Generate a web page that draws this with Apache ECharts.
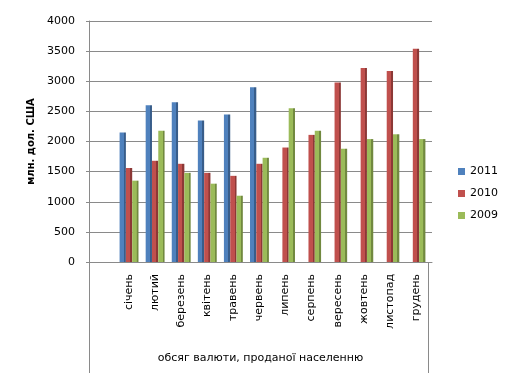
<!DOCTYPE html>
<html>
<head>
<meta charset="utf-8">
<script src="https://cdn.jsdelivr.net/npm/echarts@6/dist/echarts.min.js"></script>
<style>html,body{margin:0;padding:0;background:#fff}#c{width:512px;height:384px}</style>
</head>
<body>
<div id="c"></div>
<script>
var categories = ['січень','лютий','березень','квітень','травень','червень','липень','серпень','вересень','жовтень','листопад','грудень'];
var s2011 = [2150, 2600, 2650, 2350, 2450, 2900, null, null, null, null, null, null];
var s2010 = [1560, 1680, 1630, 1480, 1430, 1630, 1900, 2110, 2980, 3220, 3170, 3540];
var s2009 = [1350, 2180, 1480, 1300, 1100, 1730, 2550, 2180, 1880, 2040, 2120, 2040];
var yTicks = [0, 500, 1000, 1500, 2000, 2500, 3000, 3500, 4000];
var seriesNames = ['2011', '2010', '2009'];

var baseColors = ['#4F81BD', '#C0504D', '#9BBB59'];
var darkColors = ['#385D8A', '#8C3836', '#71893F'];
var FONT = 'DejaVu Sans';

function face(i) {
  return new echarts.graphic.LinearGradient(0, 0, 1, 0, [
    {offset: 0, color: baseColors[i]},
    {offset: 0.68, color: baseColors[i]},
    {offset: 0.7, color: darkColors[i]},
    {offset: 1, color: darkColors[i]}
  ]);
}

var chart = echarts.init(document.getElementById('c'), null, {renderer: 'canvas'});
var datasets = [s2011, s2010, s2009];
var series = datasets.map(function (d, i) {
  return {
    name: seriesNames[i],
    type: 'bar',
    xAxisIndex: 0,
    yAxisIndex: 0,
    data: d,
    barWidth: 6.3,
    barGap: '0%',
    itemStyle: {color: face(i)},
    emphasis: {disabled: true}
  };
});

chart.setOption({
  animation: false,
  textStyle: {fontFamily: FONT},
  grid: [
    {left: 116, right: 83, top: 21, bottom: 122},
    {left: 89, right: 80, top: 21, bottom: 122}
  ],
  legend: {
    orient: 'vertical',
    left: 453,
    top: 161,
    itemWidth: 7,
    itemHeight: 7,
    itemGap: 11,
    icon: 'rect',
    textStyle: {fontFamily: FONT, fontSize: 11, color: '#000'},
    data: seriesNames.map(function (n, i) { return {name: n, itemStyle: {color: baseColors[i]}}; })
  },
  xAxis: [
    {
      type: 'category', gridIndex: 0, data: categories,
      axisLine: {show: false}, axisTick: {show: false},
      axisLabel: {rotate: 90, margin: 12, fontFamily: FONT, fontSize: 11, color: '#000', interval: 0}
    },
    {
      type: 'value', gridIndex: 1, min: 0, max: 1,
      axisLine: {show: true, lineStyle: {color: '#8a8a8a'}},
      axisTick: {show: false}, axisLabel: {show: false}, splitLine: {show: false},
      name: 'обсяг валюти, проданої населенню', nameLocation: 'middle', nameGap: 91,
      nameTextStyle: {fontFamily: FONT, fontSize: 11, color: '#000'}
    }
  ],
  yAxis: [
    {type: 'value', gridIndex: 0, min: yTicks[0], max: yTicks[yTicks.length - 1], interval: 500, show: false},
    {
      type: 'value', gridIndex: 1, min: yTicks[0], max: yTicks[yTicks.length - 1], interval: 500,
      axisLine: {show: true, lineStyle: {color: '#8a8a8a'}},
      axisTick: {show: true, length: 3, lineStyle: {color: '#8a8a8a'}},
      axisLabel: {margin: 14, fontFamily: FONT, fontSize: 11, color: '#000', formatter: function (v) { return String(v); }},
      splitLine: {show: true, lineStyle: {color: '#8a8a8a', width: 1}},
      name: 'млн. дол. США', nameLocation: 'middle', nameGap: 52,
      nameTextStyle: {fontFamily: FONT, fontSize: 10, fontWeight: 'bold', color: '#000'}
    }
  ],
  graphic: [
    {type: 'line', shape: {x1: 89.5, y1: 262, x2: 89.5, y2: 373}, style: {stroke: '#8a8a8a', lineWidth: 1}, silent: true},
    {type: 'line', shape: {x1: 428.5, y1: 262, x2: 428.5, y2: 373}, style: {stroke: '#8a8a8a', lineWidth: 1}, silent: true}
  ],
  series: series
});
</script>
</body>
</html>
